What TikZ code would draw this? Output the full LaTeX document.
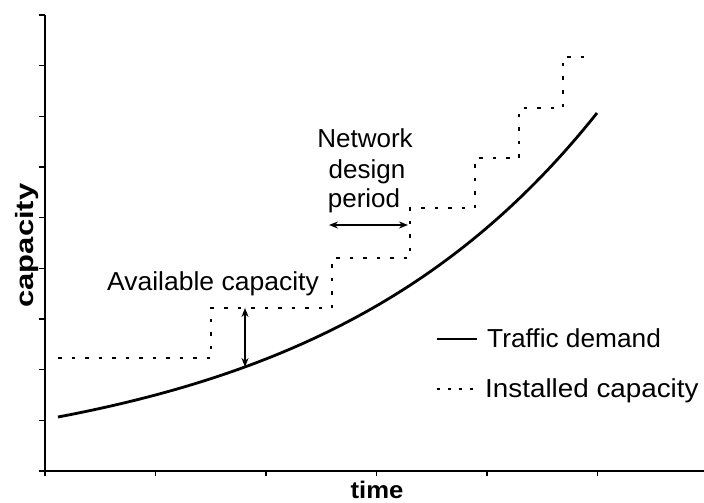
\documentclass[tikz,border=0pt]{standalone}
\usepackage{fontspec}
\usepackage{graphicx}
\setmainfont{Liberation Sans}
\usetikzlibrary{arrows.meta}
\begin{document}
\begin{tikzpicture}[x=1pt,y=-1pt,
  axis/.style={line width=1.8pt},
  tickmark/.style={line width=1.4pt},
  demand/.style={line width=2.8pt},
  installed/.style={line width=2.6pt, dash pattern=on 3.5pt off 10pt},
  gap/.style={line width=1.5pt, {Stealth[length=9pt,width=7pt]}-{Stealth[length=9pt,width=7pt]}},
  lbl/.style={font=\fontsize{26}{30}\selectfont, inner sep=0pt},
  axlbl/.style={font=\bfseries\fontsize{24}{28}\selectfont, inner sep=0pt}]
\useasboundingbox (0,0) rectangle (704,503);

% axes
\coordinate (O) at (45,471);
\coordinate (ytop) at (45,15);
\coordinate (xend) at (704,471);
\draw[axis] (ytop) -- (O) -- (xend);
\foreach \k in {0,...,9} \draw[tickmark] (45,{15+\k*50.67}) -- ++(-6,0);
\foreach \k in {0,...,5} \draw[tickmark] ({45+\k*110.5},471) -- ++(0,5);

% traffic demand: exponential growth
\draw[demand] plot[domain=58:597,samples=80,smooth] (\x,{471-54*exp(0.003514*(\x-58))});

% installed capacity: staircase
\draw[installed] (58,358) -| (211,308) -| (332,258) -| (410,208) -| (475,158) -| (519,108) -| (563,57) -- (590,57);

% available capacity gap
\coordinate (gapTop) at (245,308);
\coordinate (gapBot) at (245,367);
\draw[gap] (gapTop) -- (gapBot);

% design period
\coordinate (perL) at (329,225);
\coordinate (perR) at (408,225);
\draw[gap] (perL) -- (perR);

% labels
\node[lbl, anchor=base] (avail) at (213,290) {\scalebox{1.02}[1]{Available capacity}};
\node[lbl, anchor=base] (net1) at (365,147) {Network};
\node[lbl, anchor=base] (net2) at (367,178) {design};
\node[lbl, anchor=base] (net3) at (364,207) {period};

% legend
\coordinate (tdA) at (437,339);
\coordinate (tdB) at (477,339);
\draw[demand] (tdA) -- (tdB);
\node[lbl, anchor=base west] (tdtxt) at (487,347) {\scalebox{1.01}[1]{Traffic demand}};
\coordinate (icA) at (437,389);
\coordinate (icB) at (478,389);
\draw[line width=2pt, dash pattern=on 3pt off 8pt] (icA) -- (icB);
\node[lbl, anchor=base west] (ictxt) at (485,397) {\scalebox{1.07}[1]{Installed capacity}};

% axis titles
\node[axlbl, anchor=base] (tlab) at (377,498) {\scalebox{1.07}[1]{time}};
\node[axlbl, font=\bfseries\fontsize{25}{28}\selectfont, anchor=base, rotate=90] (clab) at (33,245.5) {\scalebox{1.24}[1]{capacity}};
\end{tikzpicture}
\end{document}
